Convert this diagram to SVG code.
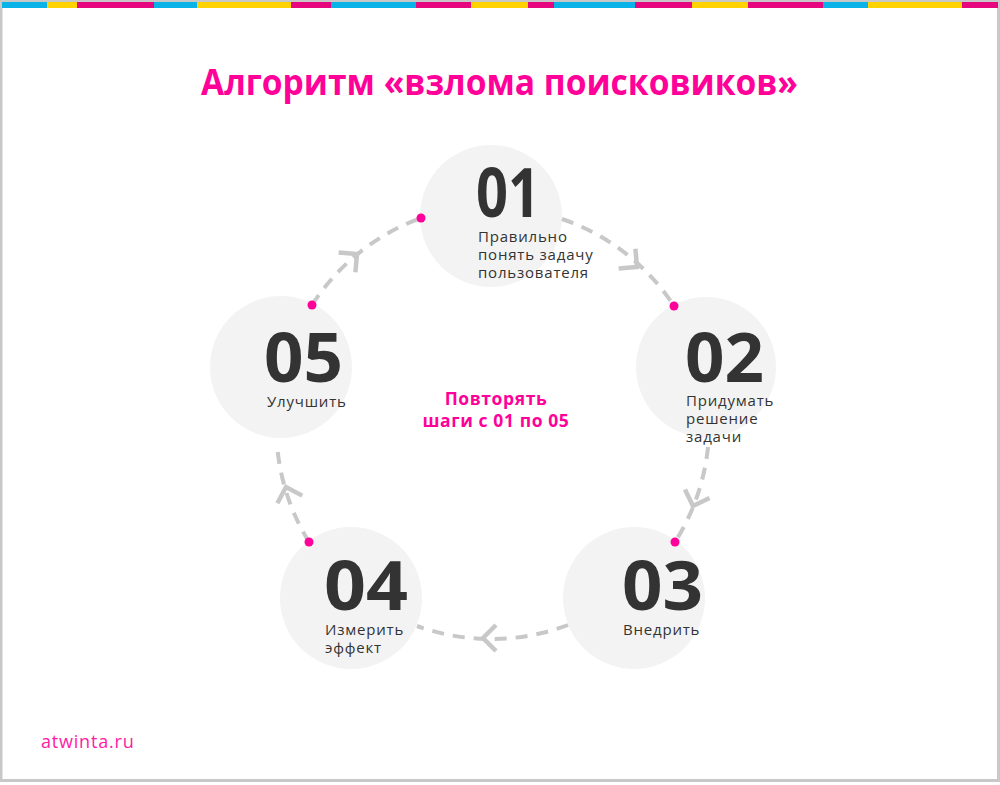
<svg xmlns="http://www.w3.org/2000/svg" width="1000" height="785" viewBox="0 0 1000 785">
  <defs>
    <style>
      .node-bg { fill: #f3f3f3; }
      .num { font-family: "Open Sans", "Noto Sans", sans-serif; font-weight: 700; font-size: 68px; fill: #333333; }
      .lbl { font-family: "Open Sans", "Noto Sans", sans-serif; font-weight: 500; font-size: 15px; letter-spacing: 0.8px; fill: #333333; }
      .dot { fill: #ff0099; }
      .conn { fill: none; stroke: #c8c8c8; stroke-width: 4; stroke-dasharray: 12 9; }
      .chev { fill: none; stroke: #c8c8c8; stroke-width: 4.5; }
      .title { font-family: "Open Sans", "Noto Sans", sans-serif; font-weight: 700; font-size: 36px; fill: #ff0099; }
      .center { font-family: "Open Sans", "Noto Sans", sans-serif; font-weight: 700; font-size: 17.5px; letter-spacing: 0.6px; fill: #ff0099; }
      .foot { font-family: "Open Sans", "Noto Sans", sans-serif; font-weight: 400; font-size: 18px; letter-spacing: 0.8px; fill: #ff1aa5; }
    </style>
    <path id="chevron" d="M -13 -13 L 0 0 L -13 13" class="chev"/>
  </defs>

  <rect x="0" y="0" width="1000" height="785" fill="#ffffff"/>
  <rect x="1" y="1" width="997.5" height="779.5" fill="none" stroke="#c8c8c8" stroke-width="3"/>

  <g id="stripe">
    <rect x="2" y="2" width="45" height="6" fill="#09b3e8"/>
    <rect x="47" y="2" width="30" height="6" fill="#ffd200"/>
    <rect x="77" y="2" width="77" height="6" fill="#e6077f"/>
    <rect x="154" y="2" width="43" height="6" fill="#09b3e8"/>
    <rect x="197" y="2" width="94" height="6" fill="#ffd200"/>
    <rect x="291" y="2" width="40" height="6" fill="#e6077f"/>
    <rect x="331" y="2" width="85" height="6" fill="#09b3e8"/>
    <rect x="416" y="2" width="55" height="6" fill="#e6077f"/>
    <rect x="471" y="2" width="57" height="6" fill="#ffd200"/>
    <rect x="528" y="2" width="26" height="6" fill="#e6077f"/>
    <rect x="554" y="2" width="81" height="6" fill="#09b3e8"/>
    <rect x="635" y="2" width="57" height="6" fill="#e6077f"/>
    <rect x="692" y="2" width="56" height="6" fill="#ffd200"/>
    <rect x="748" y="2" width="75" height="6" fill="#e6077f"/>
    <rect x="823" y="2" width="45" height="6" fill="#09b3e8"/>
    <rect x="868" y="2" width="94" height="6" fill="#ffd200"/>
    <rect x="962" y="2" width="36" height="6" fill="#e6077f"/>
  </g>

  <text class="title" x="201" y="95" textLength="597" lengthAdjust="spacingAndGlyphs">Алгоритм «взлома поисковиков»</text>

  <g id="node-01">
    <circle class="node-bg" cx="491" cy="216" r="71"/>
    <text class="num" x="476" y="217" textLength="64" lengthAdjust="spacingAndGlyphs">01</text>
    <text class="lbl" x="478" y="242">Правильно</text>
    <text class="lbl" x="478" y="260">понять задачу</text>
    <text class="lbl" x="478" y="278">пользователя</text>
  </g>
  <g id="node-02">
    <circle class="node-bg" cx="706" cy="367" r="70"/>
    <text class="num" x="685" y="382" textLength="79" lengthAdjust="spacingAndGlyphs">02</text>
    <text class="lbl" x="686" y="406">Придумать</text>
    <text class="lbl" x="686" y="424">решение</text>
    <text class="lbl" x="686" y="442">задачи</text>
  </g>
  <g id="node-03">
    <circle class="node-bg" cx="634" cy="598" r="71"/>
    <text class="num" x="622" y="610" textLength="81" lengthAdjust="spacingAndGlyphs">03</text>
    <text class="lbl" x="623" y="635">Внедрить</text>
  </g>
  <g id="node-04">
    <circle class="node-bg" cx="351" cy="598" r="71"/>
    <text class="num" x="324" y="610" textLength="84" lengthAdjust="spacingAndGlyphs">04</text>
    <text class="lbl" x="325" y="635">Измерить</text>
    <text class="lbl" x="325" y="653">эффект</text>
  </g>
  <g id="node-05">
    <circle class="node-bg" cx="281" cy="367" r="71"/>
    <text class="num" x="264" y="382" textLength="79" lengthAdjust="spacingAndGlyphs">05</text>
    <text class="lbl" x="267" y="407">Улучшить</text>
  </g>

  <g id="connectors">
    <path class="conn" d="M 562 219 A 218 218 0 0 1 674 306"/>
    <path class="conn" d="M 708 447 A 218 218 0 0 1 675 542"/>
    <path class="conn" d="M 568 625 A 218 218 0 0 1 417 626"/>
    <path class="conn" d="M 309 542 A 218 218 0 0 1 277 444"/>
    <path class="conn" d="M 312 305 A 218 218 0 0 1 421 218"/>
    <use href="#chevron" transform="translate(637 267) rotate(40)"/>
    <use href="#chevron" transform="translate(693 506) rotate(109)"/>
    <use href="#chevron" transform="translate(483 638) rotate(180)"/>
    <use href="#chevron" transform="translate(286 487) rotate(-107)"/>
    <use href="#chevron" transform="translate(357 254) rotate(-40)"/>
    <circle class="dot" cx="421" cy="218" r="4.5"/>
    <circle class="dot" cx="674" cy="306" r="4.5"/>
    <circle class="dot" cx="675" cy="542" r="4.5"/>
    <circle class="dot" cx="309" cy="542" r="4.5"/>
    <circle class="dot" cx="312" cy="305" r="4.5"/>
  </g>

  <g id="center-label">
    <text class="center" x="496" y="405" text-anchor="middle">Повторять</text>
    <text class="center" x="496" y="427" text-anchor="middle">шаги с 01 по 05</text>
  </g>

  <text class="foot" x="41" y="748">atwinta.ru</text>
</svg>
